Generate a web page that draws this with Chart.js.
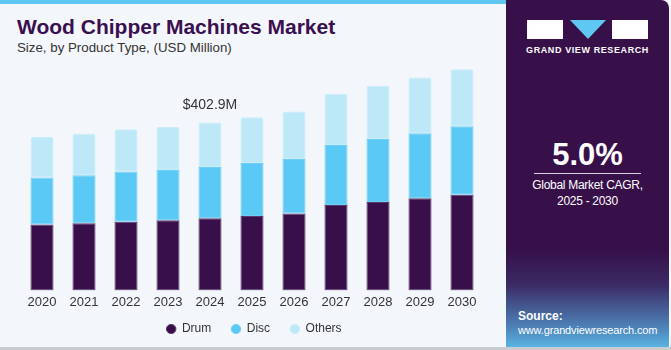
<!DOCTYPE html>
<html>
<head>
<meta charset="utf-8">
<script src="https://cdn.jsdelivr.net/npm/chart.js@4.4.1/dist/chart.umd.min.js"></script>
<style>
  html, body { margin: 0; padding: 0; }
  body {
    width: 671px; height: 350px; position: relative; overflow: hidden;
    background: #f3f7fb; font-family: "Liberation Sans", Arial, sans-serif;
  }
  .stripe { position: absolute; left: 0; top: 0; width: 506px; height: 4px; background: #5ec8f2; }
  .bottom-line { position: absolute; left: 0; top: 347px; width: 671px; height: 3px; background: #c9cdd2; }
  .title { position: absolute; left: 17px; top: 15px; font-size: 21px; font-weight: bold; color: #3a1050; }
  .subtitle { position: absolute; left: 17px; top: 40px; font-size: 13.3px; color: #333; }
  .chart-box { position: absolute; left: 0; top: 55px; width: 504px; height: 301px; }
  .panel {
    position: absolute; left: 506px; top: 0; width: 163px; height: 348px;
    border-top-right-radius: 8px;
    background: linear-gradient(180deg, #37104a 0%, #37104a 72%, #3c2b66 82%, #4d82b8 94%, #5ab6e3 100%);
  }
  .logo { position: absolute; left: 21px; top: 20px; width: 121px; height: 19px; }
  .logo .g { position: absolute; left: 0; top: 0; width: 36px; height: 19px; background: #fff; }
  .logo .r { position: absolute; left: 85px; top: 0; width: 36px; height: 19px; background: #fff; }
  .logo .v { position: absolute; left: 43px; top: 0; width: 0; height: 0;
    border-left: 18px solid transparent; border-right: 18px solid transparent; border-top: 19px solid #5ec8f2; }
  .brand { position: absolute; left: 0; width: 163px; top: 45px; text-align: center; color: #fff; font-size: 9px; font-weight: bold; letter-spacing: 0.6px; }
  .cagr { position: absolute; left: 0; width: 163px; top: 137px; text-align: center; color: #fff; font-size: 31px; font-weight: bold; }
  .rule { position: absolute; left: 28px; width: 107px; top: 173px; height: 1px; background: #d8d0e0; }
  .cagr-text { position: absolute; left: 0; width: 163px; top: 177px; text-align: center; color: #fff; font-size: 12px; letter-spacing: -0.3px; line-height: 16px; }
  .source { position: absolute; left: 12px; top: 309px; color: #fff; font-size: 11px; letter-spacing: -0.15px; line-height: 14px; }
  .source b { font-size: 12px; letter-spacing: 0; }
</style>
</head>
<body>
<div class="stripe"></div>
<div class="title">Wood Chipper Machines Market</div>
<div class="subtitle">Size, by Product Type, (USD Million)</div>
<div class="chart-box"><canvas id="chart"></canvas></div>
<div class="panel">
  <div class="logo"><div class="g"></div><div class="v"></div><div class="r"></div></div>
  <div class="brand">GRAND VIEW RESEARCH</div>
  <div class="cagr">5.0%</div>
  <div class="rule"></div>
  <div class="cagr-text">Global Market CAGR,<br>2025 - 2030</div>
  <div class="source"><b>Source:</b><br>www.grandviewresearch.com</div>
</div>
<div class="bottom-line"></div>
<script>
const years = ['2020', '2021', '2022', '2023', '2024', '2025', '2026', '2027', '2028', '2029', '2030']
const drum = [158.1, 161.4, 164.5, 168.5, 173.3, 178.8, 184.3, 205.0, 212.2, 221.0, 229.6]
const disc = [113.0, 115.1, 120.9, 120.6, 123.0, 127.1, 131.1, 143.8, 150.9, 156.4, 164.5]
const others = [96.8, 99.4, 101.1, 103.5, 106.6, 109.7, 113.7, 123.3, 128.0, 133.5, 136.8]
const highlightYear = '2024'
const highlightLabel = '$402.9M'

const FONT = '"Liberation Sans", Arial, sans-serif'

// label above the highlighted bar
const totalLabel = {
  id: 'totalLabel',
  afterDatasetsDraw(chart) {
    const i = years.indexOf(highlightYear)
    const total = drum[i] + disc[i] + others[i]
    const x = chart.scales.x.getPixelForValue(i)
    const y = chart.scales.y.getPixelForValue(total)
    const ctx = chart.ctx
    ctx.save()
    ctx.font = '14px ' + FONT
    ctx.fillStyle = '#333'
    ctx.textAlign = 'center'
    ctx.textBaseline = 'middle'
    ctx.fillText(highlightLabel, x, y - 17)
    ctx.restore()
  }
}

// legend needs wide gaps between items but sits close under the ticks
const legendNudge = {
  id: 'legendNudge',
  afterLayout(chart) {
    if (chart.legend) {
      chart.legend.top -= 11
      chart.legend.bottom -= 11
      chart.legend.left += 2
      chart.legend.right += 2
    }
  }
}

new Chart(document.getElementById('chart'), {
  type: 'bar',
  data: {
    labels: years,
    datasets: [
      { label: 'Drum', data: drum, backgroundColor: '#380f4a', borderColor: '#5a3a6e', borderWidth: 1 },
      { label: 'Disc', data: disc, backgroundColor: '#5bc9f5', borderColor: '#6ecff5', borderWidth: 1 },
      { label: 'Others', data: others, backgroundColor: '#bde8f8', borderColor: '#c8ecf9', borderWidth: 1,
        borderRadius: { topLeft: 2, topRight: 2 } }
    ]
  },
  options: {
    responsive: true,
    maintainAspectRatio: false,
    animation: false,
    datasets: { bar: { categoryPercentage: 1, barPercentage: 0.55, borderSkipped: false } },
    layout: { padding: { left: 21, right: 21, top: 5, bottom: 0 } },
    plugins: {
      legend: {
        position: 'bottom',
        labels: {
          usePointStyle: true,
          pointStyle: 'circle',
          pointStyleWidth: 9.5,
          boxHeight: 6.5,
          padding: 20,
          color: '#333',
          font: { size: 12, family: FONT }
        }
      },
      tooltip: { enabled: false }
    },
    scales: {
      x: {
        stacked: true,
        grid: { display: false, drawTicks: false },
        border: { display: false },
        ticks: { color: '#333', font: { size: 13, family: FONT }, padding: 4 }
      },
      y: {
        stacked: true,
        display: false,
        min: 0,
        max: 553
      }
    }
  },
  plugins: [totalLabel, legendNudge]
})
</script>
</body>
</html>
